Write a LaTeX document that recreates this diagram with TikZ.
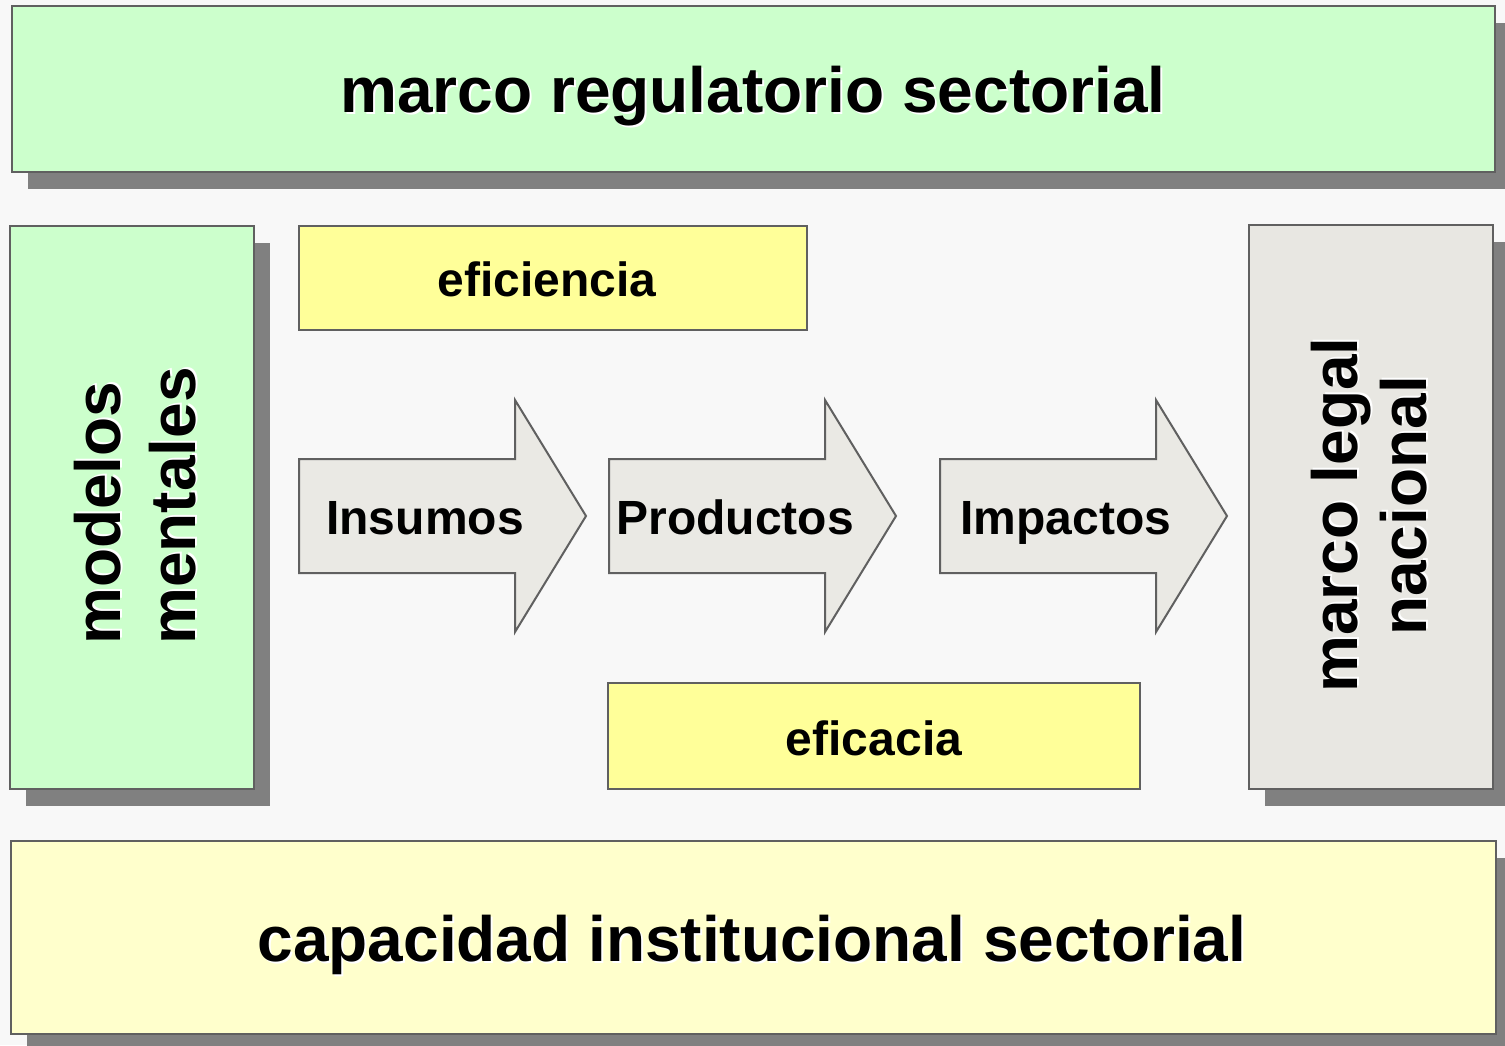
\documentclass[tikz,border=0pt]{standalone}
\usepackage{fontspec}
\setmainfont{Liberation Sans}
\usepackage{xcolor}
\definecolor{pagebg}{HTML}{F8F8F8}
\definecolor{boxline}{HTML}{606060}
\definecolor{boxgreen}{HTML}{CCFFCC}
\definecolor{boxcream}{HTML}{FFFFCC}
\definecolor{boxyellow}{HTML}{FFFF99}
\definecolor{boxgray}{HTML}{E8E7E2}
\definecolor{arrowgray}{HTML}{EAE9E4}
\definecolor{shadowgray}{HTML}{808080}
\usetikzlibrary{shadows}

% text with a light white shadow behind it
\newcommand{\glowtext}[1]{\makebox[0pt][l]{\hspace{2pt}\raisebox{-2pt}{\color{white}#1}}#1}

\tikzset{
  panel/.style={draw=boxline, line width=2pt,
    drop shadow={shadow xshift=16pt, shadow yshift=-17pt, fill=shadowgray, opacity=1}},
  plainbox/.style={draw=boxline, line width=2pt},
  flowarrow/.style={draw=boxline, line width=2pt, fill=arrowgray, line join=miter},
  bigtext/.style={font=\fontsize{64}{70}\selectfont\bfseries, inner sep=0pt},
  midtext/.style={font=\fontsize{48}{54}\selectfont\bfseries, inner sep=0pt}
}

\begin{document}
\begin{tikzpicture}[x=1pt, y=-1pt]
  % Background
  \fill[pagebg] (0,0) rectangle (1505,1045);
  \useasboundingbox (0,0) rectangle (1505,1045);

  % --- Outer frame boxes ---
  \draw[panel, fill=boxgreen] (12,6) rectangle (1495,172);
  \node[bigtext, anchor=base] (regulatorio) at (753,112) {\glowtext{marco regulatorio sectorial}};

  \draw[panel, fill=boxcream] (11,841) rectangle (1496,1034);
  \node[bigtext, anchor=base] (capacidad) at (752,961) {\glowtext{capacidad institucional sectorial}};

  \draw[panel, fill=boxgreen] (10,226) rectangle (254,789);
  \node[bigtext, rotate=90, anchor=base west] (modelos) at (120,645) {\glowtext{modelos}};
  \node[bigtext, rotate=90, anchor=base west] (mentales) at (195,645) {\glowtext{mentales}};

  \draw[panel, fill=boxgray] (1249,225) rectangle (1493,789);
  \node[bigtext, rotate=90, anchor=base] (marcolegal) at (1357,515) {\glowtext{marco legal}};
  \node[bigtext, rotate=90, anchor=base] (nacional) at (1426,506) {\glowtext{nacional}};

  % --- Inner labels ---
  \draw[plainbox, fill=boxyellow] (299,226) rectangle (807,330);
  \node[midtext, anchor=base] (eficiencia) at (547,296) {eficiencia};

  \draw[plainbox, fill=boxyellow] (608,683) rectangle (1140,789);
  \node[midtext, anchor=base] (eficacia) at (874,755) {eficacia};

  % --- Flow arrows ---
  \foreach \ax/\name/\label in {299/insumos/Insumos, 609/productos/Productos, 940/impactos/Impactos}{
    \draw[flowarrow] (\ax,459) -- (\ax+216,459) -- (\ax+216,400) -- (\ax+287,516)
      -- (\ax+216,632) -- (\ax+216,573) -- (\ax,573) -- cycle;
    \node[midtext, anchor=base] (\name) at (\ax+126,534) {\label};
  }
\end{tikzpicture}
\end{document}
